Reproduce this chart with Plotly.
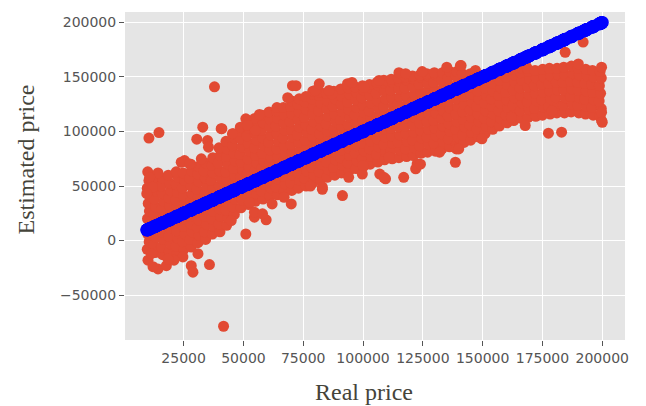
import plotly.graph_objects as go

# (real price, estimated price) in thousands
core_points_k = [
    (9.8,-8),(10.6,-1),(10.0,6),(11.2,13),(9.9,20),(10.7,27),(10.2,34),(11.0,41),(9.8,48),(10.5,55),
    (13.1,-11),(12.6,-4),(13.5,3),(12.9,10),(13.8,17),(12.7,24),(13.3,31),(12.8,38),(13.6,45),(13.0,52),(12.5,58),
    (16.2,-13),(15.7,-6),(16.6,1),(16.0,8),(15.5,15),(16.4,22),(15.9,29),(16.7,36),(16.1,43),(15.6,50),(16.3,57),
    (19.0,-10),(19.6,-3),(18.7,4),(19.4,11),(18.9,18),(19.7,25),(19.2,32),(18.8,39),(19.5,46),(19.1,53),(18.6,60),
    (22.3,-12),(21.8,-5),(22.6,2),(22.0,9),(21.6,16),(22.5,23),(22.1,30),(21.7,37),(22.4,44),(22.0,51),(22.7,58),(21.9,63),
    (25.1,-8),(24.6,-1),(25.5,6),(24.9,13),(25.3,20),(24.7,27),(25.6,34),(25.0,41),(24.5,48),(25.4,55),(24.8,62),
    (28.2,-6),(27.7,1),(28.5,8),(28.0,15),(27.6,22),(28.4,29),(27.9,36),(28.6,43),(28.1,50),(27.5,57),(28.3,64),
    (31.0,-2),(31.5,5),(30.7,12),(31.3,19),(30.8,26),(31.6,33),(31.1,40),(30.6,47),(31.4,54),(30.9,61),(31.2,68),
    (34.2,1),(33.7,8),(34.5,15),(34.0,22),(33.6,29),(34.4,36),(33.9,43),(34.6,50),(34.1,57),(33.5,64),(34.3,71),
    (37.0,6),(37.5,13),(36.7,20),(37.3,27),(36.8,34),(37.6,41),(37.1,48),(36.6,55),(37.4,62),(36.9,69),(37.2,76),
    (40.2,8),(39.7,15),(40.5,22),(40.0,29),(39.6,36),(40.4,43),(39.9,50),(40.6,57),(40.1,64),(39.5,71),(40.3,78),(39.8,85),
    (43.0,14),(43.5,21),(42.7,28),(43.3,35),(42.8,42),(43.6,49),(43.1,56),(42.6,63),(43.4,70),(42.9,77),(43.2,84),(42.7,91),
    (46.2,24),(45.7,31),(46.5,38),(46.0,45),(45.6,52),(46.4,59),(45.9,66),(46.6,73),(46.1,80),(45.5,87),(46.3,94),(45.8,98),
    (49.0,30),(49.5,37),(48.7,44),(49.3,51),(48.8,58),(49.6,65),(49.1,72),(48.6,79),(49.4,86),(48.9,93),(49.2,100),(48.7,104),
    (52.2,33),(51.7,40),(52.5,47),(52.0,54),(51.6,61),(52.4,68),(51.9,75),(52.6,82),(52.1,89),(51.5,96),(52.3,103),(51.8,110),
    (55.0,36),(55.5,43),(54.7,50),(55.3,57),(54.8,64),(55.6,71),(55.1,78),(54.6,85),(55.4,92),(54.9,99),(55.2,106),(54.7,112),
    (58.2,38),(57.7,45),(58.5,52),(58.0,59),(57.6,66),(58.4,73),(57.9,80),(58.6,87),(58.1,94),(57.5,101),(58.3,108),(57.8,115),
    (61.0,41),(61.5,48),(60.7,55),(61.3,62),(60.8,69),(61.6,76),(61.1,83),(60.6,90),(61.4,97),(60.9,104),(61.2,111),(60.7,118),
    (64.2,42),(63.7,49),(64.5,56),(64.0,63),(63.6,70),(64.4,77),(63.9,84),(64.6,91),(64.1,98),(63.5,105),(64.3,112),(63.8,119),(64.0,122),
    (67.0,45),(67.5,52),(66.7,59),(67.3,66),(66.8,73),(67.6,80),(67.1,87),(66.6,94),(67.4,101),(66.9,108),(67.2,115),(66.7,122),
    (70.2,46),(69.7,53),(70.5,60),(70.0,67),(69.6,74),(70.4,81),(69.9,88),(70.6,95),(70.1,102),(69.5,109),(70.3,116),(69.8,123),(70.2,128),
    (73.0,48),(73.5,55),(72.7,62),(73.3,69),(72.8,76),(73.6,83),(73.1,90),(72.6,97),(73.4,104),(72.9,111),(73.2,118),(72.7,125),(73.3,130),
    (76.2,50),(75.7,57),(76.5,64),(76.0,71),(75.6,78),(76.4,85),(75.9,92),(76.6,99),(76.1,106),(75.5,113),(76.3,120),(75.8,127),(76.1,132),
    (79.0,53),(79.5,60),(78.7,67),(79.3,74),(78.8,81),(79.6,88),(79.1,95),(78.6,102),(79.4,109),(78.9,116),(79.2,123),(78.7,130),(79.3,134),
    (82.2,56),(81.7,63),(82.5,70),(82.0,77),(81.6,84),(82.4,91),(81.9,98),(82.6,105),(82.1,112),(81.5,119),(82.3,126),(81.8,133),(82.0,136),
    (85.0,58),(85.5,65),(84.7,72),(85.3,79),(84.8,86),(85.6,93),(85.1,100),(84.6,107),(85.4,114),(84.9,121),(85.2,128),(84.7,135),
    (88.2,60),(87.7,67),(88.5,74),(88.0,81),(87.6,88),(88.4,95),(87.9,102),(88.6,109),(88.1,116),(87.5,123),(88.3,130),(87.8,137),
    (91.0,62),(91.5,69),(90.7,76),(91.3,83),(90.8,90),(91.6,97),(91.1,104),(90.6,111),(91.4,118),(90.9,125),(91.2,132),(90.7,139),
    (94.2,64),(93.7,71),(94.5,78),(94.0,85),(93.6,92),(94.4,99),(93.9,106),(94.6,113),(94.1,120),(93.5,127),(94.3,134),(93.8,140),
    (97.0,66),(97.5,73),(96.7,80),(97.3,87),(96.8,94),(97.6,101),(97.1,108),(96.6,115),(97.4,122),(96.9,129),(97.2,136),(96.7,141),
    (100.2,68),(99.7,75),(100.5,82),(100.0,89),(99.6,96),(100.4,103),(99.9,110),(100.6,117),(100.1,124),(99.5,131),(100.3,138),(99.8,142),
    (103.0,70),(103.5,77),(102.7,84),(103.3,91),(102.8,98),(103.6,105),(103.1,112),(102.6,119),(103.4,126),(102.9,133),(103.2,140),(102.7,143),
    (106.2,72),(105.7,79),(106.5,86),(106.0,93),(105.6,100),(106.4,107),(105.9,114),(106.6,121),(106.1,128),(105.5,135),(106.3,142),(105.8,145),
    (109.0,74),(109.5,81),(108.7,88),(109.3,95),(108.8,102),(109.6,109),(109.1,116),(108.6,123),(109.4,130),(108.9,137),(109.2,144),(108.7,147),
    (112.2,75),(111.7,82),(112.5,89),(112.0,96),(111.6,103),(112.4,110),(111.9,117),(112.6,124),(112.1,131),(111.5,138),(112.3,145),(111.8,148),
    (115.0,76),(115.5,83),(114.7,90),(115.3,97),(114.8,104),(115.6,111),(115.1,118),(114.6,125),(115.4,132),(114.9,139),(115.2,146),(114.7,149),
    (118.2,77),(117.7,84),(118.5,91),(118.0,98),(117.6,105),(118.4,112),(117.9,119),(118.6,126),(118.1,133),(117.5,140),(118.3,147),(117.8,150),
    (121.0,78),(121.5,85),(120.7,92),(121.3,99),(120.8,106),(121.6,113),(121.1,120),(120.6,127),(121.4,134),(120.9,141),(121.2,148),(120.7,151),
    (124.2,80),(123.7,87),(124.5,94),(124.0,101),(123.6,108),(124.4,115),(123.9,122),(124.6,129),(124.1,136),(123.5,143),(124.3,150),(123.8,152),
    (127.0,81),(127.5,88),(126.7,95),(127.3,102),(126.8,109),(127.6,116),(127.1,123),(126.6,130),(127.4,137),(126.9,144),(127.2,151),(126.7,153),
    (130.2,82),(129.7,89),(130.5,96),(130.0,103),(129.6,110),(130.4,117),(129.9,124),(130.6,131),(130.1,138),(129.5,145),(130.3,152),(129.8,154),
    (133.0,84),(133.5,91),(132.7,98),(133.3,105),(132.8,112),(133.6,119),(133.1,126),(132.6,133),(133.4,140),(132.9,147),(133.2,154),
    (136.2,86),(135.7,93),(136.5,100),(136.0,107),(135.6,114),(136.4,121),(135.9,128),(136.6,135),(136.1,142),(135.5,149),(136.3,155),
    (139.0,88),(139.5,95),(138.7,102),(139.3,109),(138.8,116),(139.6,123),(139.1,130),(138.6,137),(139.4,144),(138.9,151),(139.2,155),
    (142.2,90),(141.7,97),(142.5,104),(142.0,111),(141.6,118),(142.4,125),(141.9,132),(142.6,139),(142.1,146),(141.5,153),
    (145.0,92),(145.5,99),(144.7,106),(145.3,113),(144.8,120),(145.6,127),(145.1,134),(144.6,141),(145.4,148),(144.9,153),
    (148.2,95),(147.7,102),(148.5,109),(148.0,116),(147.6,123),(148.4,130),(147.9,137),(148.6,144),(148.1,151),
    (151.0,98),(151.5,105),(150.7,112),(151.3,119),(150.8,126),(151.6,133),(151.1,140),(150.6,147),(151.4,152),
    (154.2,102),(153.7,109),(154.5,116),(154.0,123),(153.6,130),(154.4,137),(153.9,144),(154.6,151),
    (157.0,105),(157.5,112),(156.7,119),(157.3,126),(156.8,133),(157.6,140),(157.1,147),(156.6,154),
    (160.2,108),(159.7,115),(160.5,122),(160.0,129),(159.6,136),(160.4,143),(159.9,150),(160.6,156),
    (163.0,110),(163.5,117),(162.7,124),(163.3,131),(162.8,138),(163.6,145),(163.1,152),(162.6,157),
    (166.2,112),(165.7,119),(166.5,126),(166.0,133),(165.6,140),(166.4,147),(165.9,154),(166.3,158),
    (169.0,113),(169.5,120),(168.7,127),(169.3,134),(168.8,141),(169.6,148),(169.1,155),(168.7,158),
    (172.2,114),(171.7,121),(172.5,128),(172.0,135),(171.6,142),(172.4,149),(171.9,156),
    (175.0,115),(175.5,122),(174.7,129),(175.3,136),(174.8,143),(175.6,150),(175.1,157),
    (178.2,116),(177.7,123),(178.5,130),(178.0,137),(177.6,144),(178.4,151),(177.9,158),
    (181.0,117),(181.5,124),(180.7,131),(181.3,138),(180.8,145),(181.6,152),(181.1,158),
    (184.2,117),(183.7,124),(184.5,131),(184.0,138),(183.6,145),(184.4,152),(183.9,159),
    (187.0,118),(187.5,125),(186.7,132),(187.3,139),(186.8,146),(187.6,153),(187.1,160),
    (190.2,117),(189.7,124),(190.5,131),(189.9,138),(189.6,145),(190.4,152),(189.9,158),
    (193.0,116),(193.5,123),(192.7,130),(193.3,137),(192.8,144),(193.6,151),(193.1,157),
    (196.2,115),(195.7,122),(196.5,129),(196.0,136),(195.6,143),(196.4,150),(195.9,156),
    (199.0,114),(199.6,121),(198.7,128),(199.3,135),(198.8,142),(199.6,149),(199.1,155),
]

outlier_points_k = [
    (10.5,94),(14.7,99),(37.9,141),(33.0,104),(30.5,93),(41.0,102.6),(35.0,91.7),(35.4,85.6),
    (25.4,73.4),(28.0,70),(32.4,75),(24.0,71.8),(27.5,70.3),(10.0,63),(14.3,62),(10.8,58),(12.0,49),(9.6,43),
    (10.1,-18),(11.5,-12),(14.3,-26),(17.8,-23),(28.2,-23),(28.9,-29),(35.8,-22),(31.0,-12),(41.7,-78.6),
    (24.7,-15),(12.2,-24),(21.0,-18),(18.5,-17),
    (51.0,6),(59.5,19),(62.0,33.6),(70.0,33.6),(44.9,18.3),(54.6,21.4),(54.6,26),(58.0,24.5),(67.0,39.7),
    (52.5,35),(78.0,50),(83.0,47),(91.4,41.3),(94.0,58),(99.7,61),(100.0,68.8),(83.0,49),
    (70.5,142),(68.5,131),(79.0,137),(56.7,115.6),(51.0,111.6),(51.8,105.5),(55.0,101),(40.7,102.6),
    (72.0,142),(80.0,137.6),(87.0,134.6),(93.5,143.8),(95.4,145),(81.7,143.7),(45.4,98),(85.8,137.6),
    (106.7,146.8),(100.4,140.6),(115.0,154),(117.8,153),(124.7,155),(135.0,159),(140.7,160.5),(147.0,156),(141.0,160.5),
    (107.0,61),(109.4,56.6),(117.0,58),(108.7,58),(122.6,70.3),(122.0,65.8),(124.0,70),(138.6,71.8),(139.0,84),
    (140.0,84),(132.0,81),(110.8,76.4),(149.7,93.3),(167.8,105.5),(177.5,98.5),(183.0,99.4),(162.0,113),(179.0,119),
    (184.5,172.7),(192.0,182),(190.0,162),(167.8,162),(199.7,159),(199.7,110),(199.7,117.6),(200.0,108.5),
]

x_tick_values = [25000, 50000, 75000, 100000, 125000, 150000, 175000, 200000]
x_tick_labels = ["25000", "50000", "75000", "100000", "125000", "150000", "175000", "200000"]
y_tick_values = [-50000, 0, 50000, 100000, 150000, 200000]
y_tick_labels = ["\u221250000", "0", "50000", "100000", "150000", "200000"]

all_points_k = core_points_k + outlier_points_k
real_price = [p[0] * 1000 for p in all_points_k]
estimated_price = [p[1] * 1000 for p in all_points_k]

fig = go.Figure()
fig.add_trace(go.Scatter(
    x=real_price, y=estimated_price, mode="markers",
    marker=dict(color="#E24A33", size=11, line=dict(width=0)),
    showlegend=False, hoverinfo="skip",
))
fig.add_trace(go.Scatter(
    x=sorted(real_price), y=sorted(real_price), mode="markers",
    marker=dict(color="#0000FF", size=13, line=dict(width=0)),
    showlegend=False, hoverinfo="skip",
))

L, R, T, B = 125, 21, 12, 66
W, H = 646, 406
pw, ph = W - L - R, H - T - B

axis_common = dict(
    showgrid=True, gridcolor="white", gridwidth=1,
    zeroline=False, showline=False,
    ticks="outside", ticklen=5, tickwidth=1, tickcolor="#555555",
    tickfont=dict(family="DejaVu Sans", size=14, color="#555555"),
)

fig.update_layout(
    width=W, height=H,
    margin=dict(l=L, r=R, t=T, b=B, pad=0),
    paper_bgcolor="white", plot_bgcolor="#E5E5E5",
    xaxis=dict(range=[500, 209500], tickvals=x_tick_values, ticktext=x_tick_labels, **axis_common),
    yaxis=dict(range=[-91200, 209600], tickvals=y_tick_values, ticktext=y_tick_labels, **axis_common),
    annotations=[
        dict(text="Real price", xref="paper", yref="paper",
             x=(363.5 - L) / pw, y=(H - B - 392) / ph, showarrow=False,
             xanchor="center", yanchor="middle",
             font=dict(family="Liberation Serif", size=24, color="#45443a")),
        dict(text="Estimated price", xref="paper", yref="paper",
             x=(25.5 - L) / pw, y=(H - B - 160) / ph, showarrow=False,
             textangle=-90, xanchor="center", yanchor="middle",
             font=dict(family="Liberation Serif", size=24, color="#45443a")),
    ],
)

fig.write_html("out.html", config={"displayModeBar": False},
               post_script="document.body.style.margin='0';")
